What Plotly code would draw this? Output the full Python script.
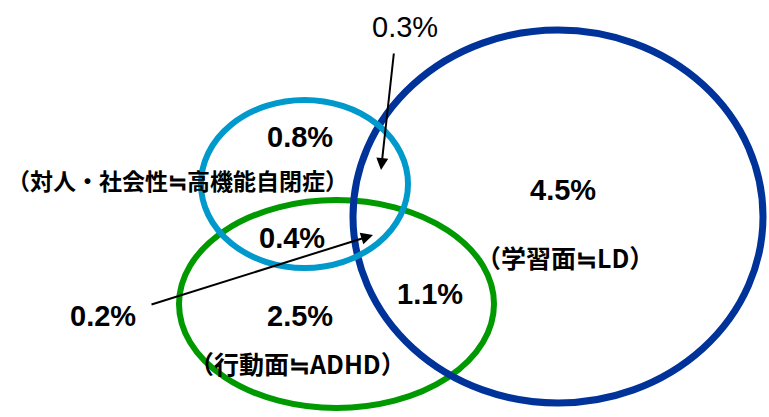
import plotly.graph_objects as go

# ---- data ----
region_values = ["0.3%", "0.8%", "4.5%", "0.4%", "0.2%", "2.5%", "1.1%"]
region_x = [405, 300, 563, 292, 103, 300, 430]
region_y = [27, 137, 190, 238, 316, 316, 294]
region_bold = [False, True, True, True, True, True, True]

group_labels = ["（対人・社会性≒高機能自閉症）", "（学習面≒LD）", "（行動面≒ADHD）"]
group_x = [177, 565, 297]
group_y = [180, 257, 363]
group_size = [23, 25, 25]

# ellipses: center x, center y, rx, ry, colour, width (drawn in this order)
ell_cx = [336.5, 558, 304.5]
ell_cy = [304, 216.5, 184]
ell_rx = [157.5, 205, 103.5]
ell_ry = [104, 186.5, 84]
ell_color = ["#009900", "#003399", "#0099CC"]
ell_width = [6, 7, 6]

# arrows: tail -> head
arrow_tail_x = [394, 150]
arrow_tail_y = [52, 305]
arrow_head_x = [381, 373]
arrow_head_y = [170, 235]

W, H = 769, 417
fig = go.Figure()
fig.add_trace(go.Scatter(x=[0, W], y=[0, H], mode="markers",
                         marker=dict(opacity=0), hoverinfo="skip", showlegend=False))

for cx, cy, rx, ry, c, w in zip(ell_cx, ell_cy, ell_rx, ell_ry, ell_color, ell_width):
    fig.add_shape(type="circle", xref="x", yref="y",
                  x0=cx - rx, x1=cx + rx, y0=cy - ry, y1=cy + ry,
                  line=dict(color=c, width=w), fillcolor="rgba(0,0,0,0)")

for tx, ty, hx, hy in zip(arrow_tail_x, arrow_tail_y, arrow_head_x, arrow_head_y):
    fig.add_annotation(x=hx, y=hy, ax=tx, ay=ty, xref="x", yref="y",
                       axref="x", ayref="y", text="", showarrow=True,
                       arrowhead=2, arrowsize=1.2, arrowwidth=2, arrowcolor="black")

for v, x, y, b in zip(region_values, region_x, region_y, region_bold):
    fig.add_annotation(x=x, y=y, xref="x", yref="y", showarrow=False,
                       text=("<b>%s</b>" % v) if b else v,
                       font=dict(family="Liberation Sans, Arial, sans-serif", size=29, color="black"))

for t, x, y, s in zip(group_labels, group_x, group_y, group_size):
    fig.add_annotation(x=x, y=y, xref="x", yref="y", showarrow=False,
                       text="<b>%s</b>" % t, borderpad=0,
                       font=dict(family="Noto Sans CJK JP, sans-serif", size=s, color="black"))

fig.update_xaxes(range=[0, W], visible=False, fixedrange=True)
fig.update_yaxes(range=[H, 0], visible=False, fixedrange=True)
fig.update_layout(width=W, height=H, margin=dict(l=0, r=0, t=0, b=0),
                  paper_bgcolor="white", plot_bgcolor="white", showlegend=False)

fig.write_html("out.html", config=dict(displayModeBar=False),
               post_script="document.body.style.margin='0';document.body.style.overflow='hidden';")
